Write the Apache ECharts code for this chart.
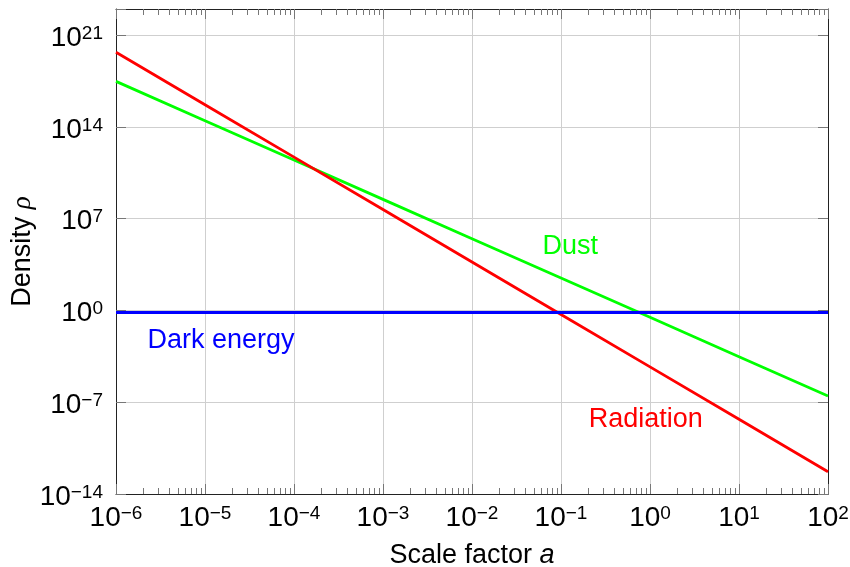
<!DOCTYPE html>
<html>
<head>
<meta charset="utf-8">
<script src="https://cdn.jsdelivr.net/npm/echarts@6/dist/echarts.min.js"></script>
<style>
  html, body { margin: 0; padding: 0; background: #fff; }
  #chart { width: 850px; height: 567px; }
</style>
</head>
<body>
<div id="chart"></div>
<script>
// scale factor a and the densities
const scaleFactor = [1e-6, 1e-5, 1e-4, 1e-3, 1e-2, 1e-1, 1e0, 1e1, 1e2];
const radiation   = [5e19, 5e15, 5e11, 5e7, 5e3, 5e-1, 5e-5, 5e-9, 5e-13];
const dust        = [3e17, 3e14, 3e11, 3e8, 3e5, 3e2, 3e-1, 3e-4, 3e-7];
const darkEnergy  = [0.7, 0.7, 0.7, 0.7, 0.7, 0.7, 0.7, 0.7, 0.7];

// tick labels (powers of ten)
const xTickExp = [-6, -5, -4, -3, -2, -1, 0, 1, 2];
const yTickExp = [-14, -7, 0, 7, 14, 21];

const FONT = '"Liberation Sans", Arial, Helvetica, sans-serif';

// both axes are drawn in decades, so the values go through log10
function toPoints(ys) {
  return scaleFactor.map((a, i) => [Math.log10(a), Math.log10(ys[i])]);
}

// log minor ticks 2..9 in every decade of x
const minorX = [];
for (let e = -6; e < 2; e++) {
  for (let k = 2; k <= 9; k++) minorX.push(e + Math.log10(k));
}

function powLabel(list) {
  return function (v) {
    if (list.indexOf(v) < 0) return '';
    return '{b|10}{s|' + String(v).replace('-', '\u2212') + '}';
  };
}

const labelRich = {
  b: { fontSize: 28, lineHeight: 28, fontFamily: FONT, color: '#000' },
  s: { fontSize: 19, lineHeight: 19, fontFamily: FONT, color: '#000', verticalAlign: 'top' }
};

const frameLine = { show: true, onZero: false, lineStyle: { color: '#222', width: 1 } };
const noLine = { show: false, onZero: false };
const tickColor = '#777';
const majorTick = { show: true, inside: true, length: 10, lineStyle: { color: tickColor, width: 1 } };
const minorTick = { show: true, inside: true, length: 6, customValues: minorX, lineStyle: { color: tickColor, width: 1 } };
const gridLine = { show: true, lineStyle: { color: '#cfcfcf', width: 1 } };

const xBase = { type: 'value', min: -6, max: 2, interval: 1 };
const yBase = { type: 'value', min: -14, max: 23, interval: 7 };

const option = {
  animation: false,
  backgroundColor: '#fff',
  grid: { left: 116, right: 22, top: 9, bottom: 73, containLabel: false, outerBoundsMode: 'none' },
  xAxis: [
    Object.assign({}, xBase, {
      position: 'bottom',
      name: '{n|Scale factor }{i|a}',
      nameLocation: 'middle',
      nameGap: 48,
      nameMoveOverlap: false,
      nameTextStyle: {
        rich: {
          n: { fontSize: 27, fontFamily: FONT, color: '#000' },
          i: { fontSize: 27, fontFamily: FONT, fontStyle: 'italic', color: '#000' }
        }
      },
      axisLine: frameLine,
      axisTick: majorTick,
      axisLabel: { margin: 10, showMinLabel: true, showMaxLabel: true, formatter: powLabel(xTickExp), rich: labelRich },
      splitLine: gridLine
    }),
    Object.assign({}, xBase, {
      position: 'bottom',
      axisLine: noLine, axisLabel: { show: false }, splitLine: { show: false },
      axisTick: minorTick
    }),
    Object.assign({}, xBase, {
      position: 'top',
      axisLine: frameLine, axisLabel: { show: false }, splitLine: { show: false },
      axisTick: majorTick
    }),
    Object.assign({}, xBase, {
      position: 'top',
      axisLine: noLine, axisLabel: { show: false }, splitLine: { show: false },
      axisTick: minorTick
    })
  ],
  yAxis: [
    Object.assign({}, yBase, {
      position: 'left',
      name: '{n|Density }{i|\u03C1}',
      nameLocation: 'middle',
      nameGap: 80,
      nameMoveOverlap: false,
      nameTextStyle: {
        rich: {
          n: { fontSize: 27, fontFamily: FONT, color: '#000' },
          i: { fontSize: 27, fontFamily: '"Liberation Serif", serif', fontStyle: 'italic', color: '#000' }
        }
      },
      axisLine: frameLine,
      axisTick: majorTick,
      axisLabel: { margin: 13, padding: [6, 0, 0, 0], showMinLabel: true, formatter: powLabel(yTickExp), rich: labelRich },
      splitLine: gridLine
    }),
    Object.assign({}, yBase, {
      position: 'right',
      axisLine: frameLine, axisLabel: { show: false }, splitLine: { show: false },
      axisTick: majorTick
    })
  ],
  series: [
    {
      name: 'Dust', type: 'line', data: toPoints(dust),
      showSymbol: false, silent: true,
      lineStyle: { color: '#00ff00', width: 2.8 }
    },
    {
      name: 'Radiation', type: 'line', data: toPoints(radiation),
      showSymbol: false, silent: true,
      lineStyle: { color: '#ff0000', width: 2.8 }
    },
    {
      name: 'Dark energy', type: 'line', data: toPoints(darkEnergy),
      showSymbol: false, silent: true,
      lineStyle: { color: '#0000ff', width: 3 }
    },
    {
      // curve names placed in data space
      type: 'scatter', symbolSize: 0, silent: true,
      itemStyle: { opacity: 1 },
      label: { show: true, position: 'inside', fontSize: 27, fontFamily: FONT, textBorderWidth: 0, opacity: 1 },
      data: [
        { value: [-0.895, 4.9], label: { formatter: 'Dust', color: '#00ff00' } },
        { value: [-4.82, -2.3], label: { formatter: 'Dark energy', color: '#0000ff' } },
        { value: [-0.047, -8.35], label: { formatter: 'Radiation', color: '#ff0000' } }
      ]
    }
  ]
};

const chart = echarts.init(document.getElementById('chart'), null, { renderer: 'canvas' });
chart.setOption(option);
</script>
</body>
</html>
